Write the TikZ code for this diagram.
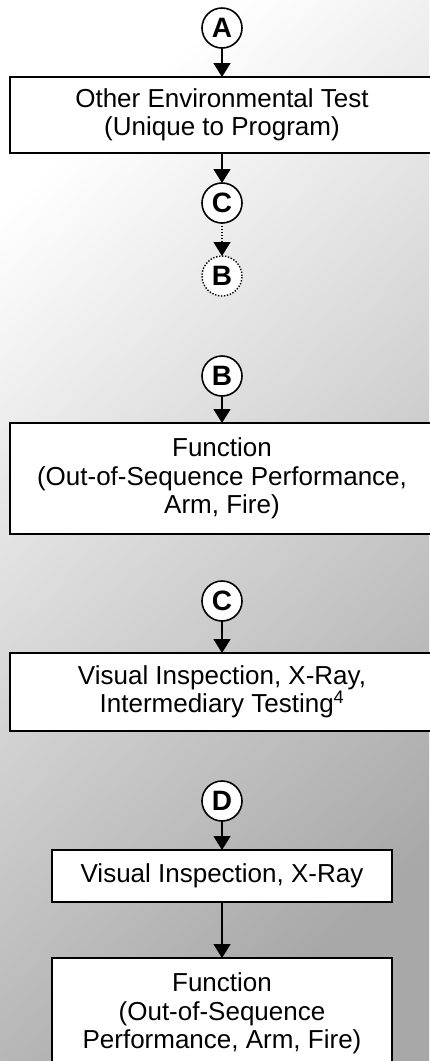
\documentclass[tikz,border=0pt]{standalone}
\usepackage{fontspec}
\setmainfont{Liberation Sans}
\usepackage{tikz}
\usetikzlibrary{arrows.meta,positioning}
\newcommand{\fnote}[1]{\textsuperscript{#1}}

\begin{document}
\begin{tikzpicture}[x=1pt, y=-1pt,
  every node/.style = {align=center, outer sep=0pt,
    font=\fontsize{26}{28.5}\selectfont},
  box/.style = {draw, fill=white, line width=1.6pt,
    minimum width=424pt, inner sep=0pt},
  smallbox/.style = {box, minimum width=340pt},
  conn/.style = {draw, circle, fill=white, line width=1.6pt,
    minimum size=40pt, inner sep=0pt,
    font=\fontsize{28}{28}\selectfont\bfseries},
  ghost/.style = {conn, line width=1.4pt, dash pattern=on 1.4pt off 1.6pt},
  flow/.style = {line width=1.6pt, -{Triangle[length=14pt,width=17pt]}},
  ghostflow/.style = {flow, line width=1.4pt, dash pattern=on 1.4pt off 1.6pt}]
  \shade[top color=white, bottom color=black!34, shading angle=42]
    (0,0) rectangle (429,1061);
  \useasboundingbox (0,0) rectangle (429,1061);

  \node[conn] (A) at (222,28) {A};
  \node[box, minimum height=76pt, below=29pt of A] (env)
    {Other Environmental Test\\(Unique to Program)};
  \node[conn, below=30pt of env] (C1) {C};
  \node[ghost, below=33pt of C1] (B1) {B};

  \node[conn, below=60pt of B1] (B2) {B};
  \node[box, minimum height=111pt, below=27pt of B2] (func1)
    {Function\\(Out-of-Sequence Performance,\\Arm, Fire)};

  \node[conn, below=47pt of func1] (C2) {C};
  \node[box, minimum height=78pt, below=32pt of C2] (vis1)
    {Visual Inspection, X-Ray,\\Intermediary Testing\fnote{4}};

  \node[conn, below=50pt of vis1] (D) {D};
  \node[smallbox, minimum height=52pt, below=29pt of D] (vis2)
    {Visual Inspection, X-Ray};
  \node[smallbox, minimum height=111pt, below=56pt of vis2] (func2)
    {Function\\(Out-of-Sequence\\Performance, Arm, Fire)};

  \draw[flow] (A) -- (env);
  \draw[flow] (env) -- (C1);
  \draw[ghostflow] (C1) -- (B1);
  \draw[flow] (B2) -- (func1);
  \draw[flow] (C2) -- (vis1);
  \draw[flow] (D) -- (vis2);
  \draw[flow] (vis2) -- (func2);
\end{tikzpicture}
\end{document}
